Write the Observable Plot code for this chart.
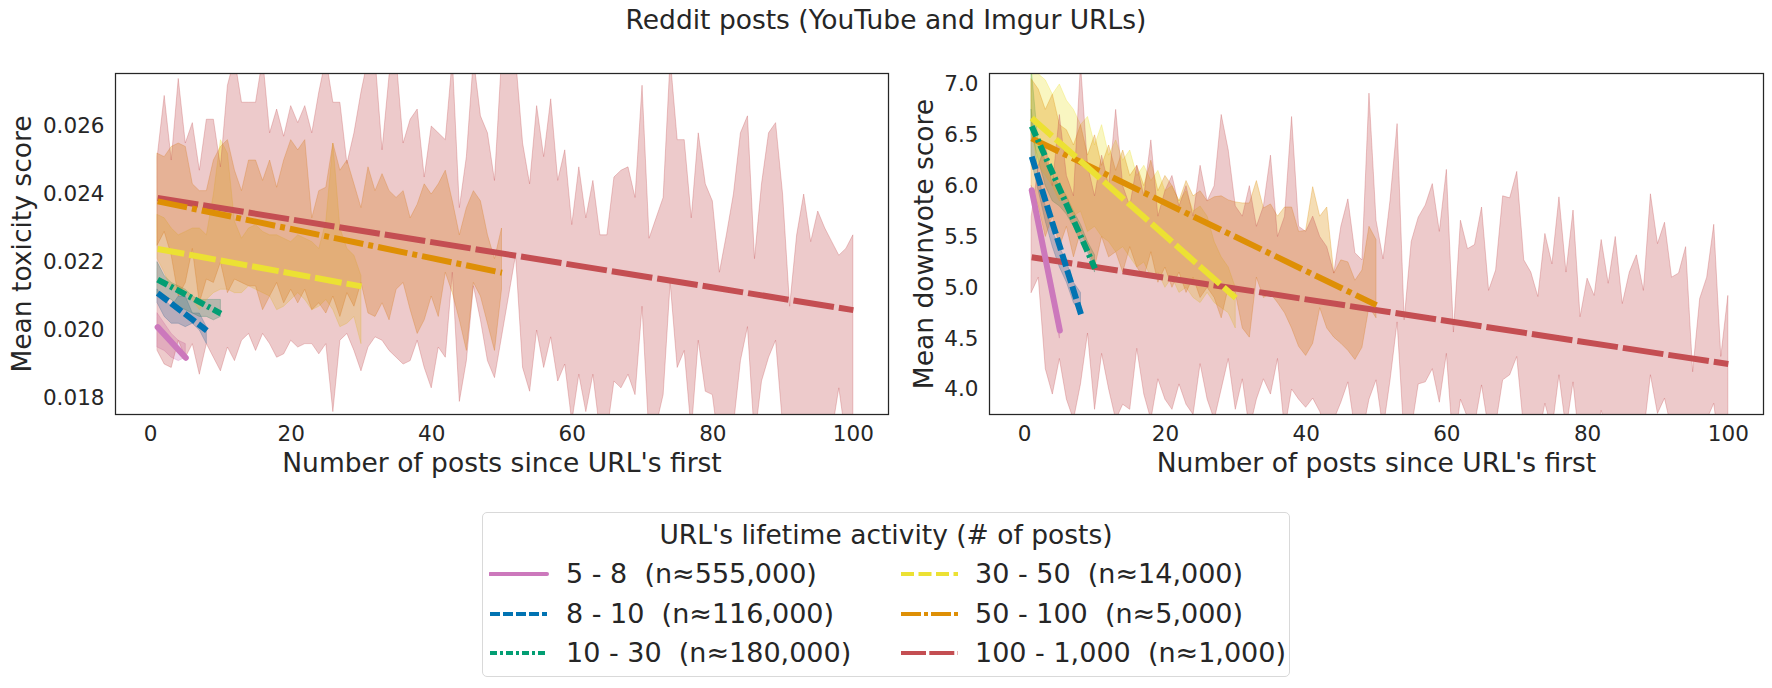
<!DOCTYPE html>
<html><head><meta charset="utf-8">
<script src="https://cdn.jsdelivr.net/npm/d3@7"></script>
<script src="https://cdn.jsdelivr.net/npm/@observablehq/plot@0.6"></script>
<style>
body{margin:0;background:#fff;font-family:"DejaVu Sans",sans-serif;color:#262626}
#root{position:relative;width:1772px;height:688px;overflow:hidden;background:#fff}
#title{position:absolute;left:0;width:1772px;top:5px;line-height:30px;text-align:center;font-size:26.5px}
.panel{position:absolute;top:0}
#legend{position:absolute;left:482px;top:512px;width:806px;height:163px;border:1.5px solid #d9d9d9;border-radius:5px;font-size:27px;background:#fff}
.lt{position:absolute;left:0;width:806px;text-align:center;line-height:30px;font-size:26.5px}
.item{position:absolute;white-space:pre;line-height:30px}
.sw{position:absolute}
</style>
</head><body>
<div id="root">
  <div id="title">Reddit posts (YouTube and Imgur URLs)</div>
  <div id="left" class="panel" style="left:0px"></div>
  <div id="right" class="panel" style="left:900px"></div>
  <div id="legend"></div>
</div>
<script>
// ---------- categories ----------
const groupLabels = ["5 - 8", "8 - 10", "10 - 30", "30 - 50", "50 - 100", "100 - 1,000"];
const groupCounts = ["n≈555,000", "n≈116,000", "n≈180,000", "n≈14,000", "n≈5,000", "n≈1,000"];
const groupColors = ["#cc78bc", "#0173b2", "#029e73", "#ece133", "#de8f05", "#c44e52"];
const groupLastX = [5, 8, 10, 30, 50, 100];
const xTicks = [0, 20, 40, 60, 80, 100];
const xLabel = "Number of posts since URL's first";

// ---------- left panel: mean toxicity ----------
const toxTicks = [0.018, 0.020, 0.022, 0.024, 0.026];
const toxFitStart = [0.0201, 0.0211, 0.0215, 0.0224, 0.0238, 0.0239];
const toxFitEnd   = [0.0192, 0.0200, 0.0205, 0.0213, 0.0217, 0.0206];
const toxPinkLo = [0.0195, 0.0194, 0.0192, 0.0191, 0.0192];
const toxPinkHi = [0.0205, 0.0202, 0.0199, 0.0197, 0.0196];
const toxBlueLo = [0.0208, 0.0204, 0.0202, 0.0202, 0.0201, 0.0202, 0.0200, 0.0196];
const toxBlueHi = [0.0212, 0.0209, 0.0207, 0.0210, 0.0210, 0.0205, 0.0205, 0.0201];
const toxGreenLo = [0.0210, 0.0210, 0.0209, 0.0207, 0.0206, 0.0205, 0.0204, 0.0204, 0.0203, 0.0204];
const toxGreenHi = [0.0220, 0.0216, 0.0214, 0.0213, 0.0212, 0.0210, 0.0209, 0.0209, 0.0209, 0.0209];
const toxYellowLo = [0.0221, 0.0217, 0.0212, 0.0212, 0.0211, 0.0209, 0.0206, 0.0209, 0.0211, 0.0212,
  0.0212, 0.0211, 0.0211, 0.0213, 0.0212, 0.0211, 0.0210, 0.0206, 0.0207, 0.0209,
  0.0211, 0.0209, 0.0206, 0.0207, 0.0209, 0.0206, 0.0201, 0.0202, 0.0204, 0.0196];
const toxYellowHi = [0.0234, 0.0233, 0.0230, 0.0228, 0.0229, 0.0230, 0.0230, 0.0228, 0.0240, 0.0256,
  0.0252, 0.0232, 0.0227, 0.0230, 0.0231, 0.0229, 0.0228, 0.0228, 0.0227, 0.0226,
  0.0228, 0.0227, 0.0226, 0.0224, 0.0232, 0.0255, 0.0230, 0.0224, 0.0222, 0.0216];
const toxOrangeLo = [0.0225, 0.0229, 0.0222, 0.0210, 0.0214, 0.0224, 0.0208, 0.0215, 0.0214, 0.0220,
  0.0211, 0.0215, 0.0214, 0.0213, 0.0213, 0.0206, 0.0210, 0.0214, 0.0208, 0.0212,
  0.0208, 0.0212, 0.0206, 0.0208, 0.0205, 0.0210, 0.0204, 0.0211, 0.0207, 0.0214,
  0.0205, 0.0204, 0.0208, 0.0203, 0.0212, 0.0214, 0.0206, 0.0199, 0.0203, 0.0210,
  0.0204, 0.0217, 0.0211, 0.0203, 0.0194, 0.0214, 0.0210, 0.0202, 0.0194, 0.0212];
const toxOrangeHi = [0.0252, 0.0251, 0.0254, 0.0255, 0.0254, 0.0243, 0.0241, 0.0241, 0.0250, 0.0254,
  0.0256, 0.0247, 0.0241, 0.0250, 0.0250, 0.0244, 0.0250, 0.0242, 0.0250, 0.0256,
  0.0253, 0.0256, 0.0233, 0.0241, 0.0242, 0.0255, 0.0247, 0.0250, 0.0243, 0.0236,
  0.0248, 0.0241, 0.0246, 0.0241, 0.0239, 0.0241, 0.0233, 0.0237, 0.0243, 0.0240,
  0.0243, 0.0247, 0.0238, 0.0228, 0.0236, 0.0241, 0.0238, 0.0228, 0.0221, 0.0230];
const toxRedLo = [0.0194, 0.0190, 0.0189, 0.0197, 0.0192, 0.0196, 0.0187, 0.0196, 0.0192, 0.0188,
  0.0195, 0.0191, 0.0197, 0.0199, 0.0194, 0.0199, 0.0196, 0.0192, 0.0193, 0.0197,
  0.0195, 0.0196, 0.0196, 0.0193, 0.0196, 0.0176, 0.0197, 0.0199, 0.0194, 0.0188,
  0.0195, 0.0198, 0.0197, 0.0194, 0.0192, 0.0190, 0.0191, 0.0197, 0.0189, 0.0183,
  0.0195, 0.0192, 0.0217, 0.0179, 0.0191, 0.0213, 0.0203, 0.0191, 0.0186, 0.0198,
  0.0210, 0.0222, 0.0189, 0.0182, 0.0200, 0.0189, 0.0198, 0.0185, 0.0190, 0.0173,
  0.0187, 0.0176, 0.0187, 0.0170, 0.0170, 0.0185, 0.0183, 0.0187, 0.0181, 0.0207,
  0.0168, 0.0172, 0.0181, 0.0214, 0.0189, 0.0194, 0.0170, 0.0197, 0.0182, 0.0181,
  0.0165, 0.0170, 0.0172, 0.0191, 0.0201, 0.0168, 0.0185, 0.0192, 0.0197, 0.0172,
  0.0168, 0.0165, 0.0170, 0.0166, 0.0169, 0.0171, 0.0170, 0.0183, 0.0168, 0.0172];
const toxRedHi = [0.0251, 0.0269, 0.0250, 0.0274, 0.0255, 0.0261, 0.0247, 0.0262, 0.0262, 0.0248,
  0.0272, 0.0280, 0.0267, 0.0267, 0.0267, 0.0280, 0.0258, 0.0265, 0.0257, 0.0266,
  0.0261, 0.0266, 0.0258, 0.0270, 0.0280, 0.0267, 0.0267, 0.0249, 0.0258, 0.0270,
  0.0280, 0.0280, 0.0253, 0.0275, 0.0280, 0.0255, 0.0262, 0.0265, 0.0245, 0.0260,
  0.0258, 0.0256, 0.0280, 0.0236, 0.0251, 0.0280, 0.0263, 0.0258, 0.0244, 0.0280,
  0.0280, 0.0280, 0.0255, 0.0243, 0.0266, 0.0251, 0.0268, 0.0244, 0.0253, 0.0231,
  0.0248, 0.0233, 0.0244, 0.0228, 0.0228, 0.0245, 0.0247, 0.0248, 0.0239, 0.0272,
  0.0227, 0.0233, 0.0239, 0.0280, 0.0256, 0.0256, 0.0233, 0.0258, 0.0243, 0.0238,
  0.0217, 0.0228, 0.0240, 0.0258, 0.0263, 0.0221, 0.0243, 0.0258, 0.0261, 0.0240,
  0.0207, 0.0228, 0.0240, 0.0226, 0.0235, 0.0230, 0.0226, 0.0222, 0.0224, 0.0228];

// ---------- right panel: mean downvote score ----------
const dvTicks = [4.0, 4.5, 5.0, 5.5, 6.0, 6.5, 7.0];
const dvFitStart = [5.96, 6.29, 6.59, 6.67, 6.47, 5.30];
const dvFitEnd   = [4.58, 4.74, 5.19, 4.90, 4.83, 4.25];
const dvPinkLo = [5.90, 5.55, 5.20, 4.85, 4.50];
const dvPinkHi = [6.00, 5.70, 5.35, 5.00, 4.65];
const dvBlueLo = [6.25, 5.95, 5.65, 5.40, 5.20, 5.05, 4.85, 4.75];
const dvBlueHi = [6.75, 6.10, 5.80, 5.55, 5.40, 5.25, 5.05, 4.95];
const dvGreenLo = [6.55, 6.25, 6.00, 5.85, 5.80, 5.72, 5.60, 5.45, 5.35, 5.15];
const dvGreenHi = [7.15, 6.40, 6.25, 6.10, 6.00, 5.90, 5.75, 5.62, 5.45, 5.32];
const dvYellowLo = [6.50, 6.20, 6.10, 6.00, 5.85, 5.90, 5.70, 5.75, 5.55, 5.60,
  5.50, 5.45, 5.35, 5.40, 5.30, 5.20, 5.25, 5.10, 5.15, 5.00,
  5.10, 4.95, 5.00, 4.90, 4.85, 4.95, 4.85, 4.80, 4.75, 4.60];
const dvYellowHi = [7.20, 7.10, 7.04, 6.90, 7.00, 6.84, 6.75, 6.60, 6.68, 6.40,
  6.60, 6.30, 6.45, 6.25, 6.35, 6.10, 6.20, 6.05, 6.15, 5.95,
  6.00, 5.85, 5.95, 5.75, 5.80, 5.70, 5.45, 5.30, 5.20, 5.00];
const dvOrangeLo = [6.00, 5.80, 5.50, 5.70, 5.40, 5.60, 5.30, 5.55, 5.40, 5.20,
  5.50, 5.30, 5.35, 5.15, 5.40, 5.20, 5.10, 5.35, 5.05, 5.20,
  5.00, 5.15, 4.95, 5.10, 4.90, 5.00, 4.90, 4.70, 5.00, 4.95,
  4.60, 4.51, 5.10, 4.90, 4.94, 4.85, 4.75, 4.60, 4.42, 4.33,
  4.45, 4.80, 4.60, 4.51, 4.45, 4.38, 4.29, 4.41, 4.81, 4.70];
const dvOrangeHi = [7.05, 6.95, 6.75, 6.90, 6.60, 6.55, 6.40, 6.60, 6.30, 6.50,
  6.20, 6.40, 6.15, 6.35, 6.10, 6.20, 6.00, 6.25, 5.95, 6.10,
  6.00, 5.85, 6.05, 5.90, 5.95, 5.85, 5.89, 5.90, 5.86, 5.84,
  5.83, 5.83, 6.05, 5.78, 5.82, 5.70, 5.79, 5.79, 5.55, 5.56,
  5.99, 5.70, 5.79, 5.14, 5.27, 5.25, 5.07, 5.17, 5.60, 5.47];
const dvRedLo = [4.95, 5.10, 4.20, 3.95, 4.30, 3.90, 3.70, 4.05, 4.55, 3.80,
  4.35, 4.00, 3.70, 3.85, 3.80, 4.40, 3.95, 3.70, 4.10, 3.90,
  3.80, 4.05, 3.85, 3.75, 4.25, 3.90, 3.70, 4.00, 4.30, 3.80,
  4.10, 3.60, 3.90, 4.10, 3.95, 4.30, 3.60, 4.00, 3.90, 3.82,
  3.91, 3.78, 3.60, 3.70, 3.87, 4.07, 3.60, 3.55, 3.90, 4.09,
  3.60, 4.09, 4.66, 3.50, 3.60, 4.05, 4.07, 4.20, 3.87, 4.35,
  3.40, 3.90, 3.72, 3.65, 4.04, 3.60, 3.65, 4.09, 4.14, 4.32,
  3.60, 3.60, 3.50, 3.86, 3.60, 4.14, 3.60, 4.07, 3.40, 3.50,
  3.50, 3.79, 3.55, 3.70, 3.50, 3.60, 3.70, 3.55, 4.14, 3.76,
  3.91, 3.60, 3.60, 3.65, 3.30, 3.55, 3.70, 3.86, 3.30, 3.60];
const dvRedHi = [5.70, 6.20, 6.40, 6.00, 6.70, 6.10, 5.90, 7.20, 6.20, 5.90,
  6.30, 6.00, 6.75, 6.00, 5.80, 6.20, 5.90, 6.45, 5.70, 5.95,
  6.10, 5.80, 6.00, 5.70, 6.20, 5.85, 6.00, 6.70, 6.35, 5.80,
  5.70, 6.00, 5.60, 5.80, 6.30, 5.50, 5.70, 6.68, 5.60, 5.55,
  5.70, 5.50, 5.40, 5.14, 5.60, 5.87, 5.34, 5.27, 6.91, 5.66,
  5.28, 5.86, 6.61, 4.68, 5.45, 5.69, 5.81, 6.02, 5.55, 6.16,
  4.56, 5.66, 5.38, 5.42, 5.79, 4.97, 5.17, 5.90, 5.88, 6.14,
  5.27, 5.15, 4.91, 5.53, 5.23, 5.89, 5.15, 5.76, 4.71, 5.09,
  4.92, 5.47, 5.04, 5.50, 4.84, 5.15, 5.32, 4.97, 5.92, 5.43,
  5.64, 5.10, 5.14, 5.40, 4.17, 4.89, 5.10, 5.62, 4.32, 4.92];

// ---------- styles ----------
const plotDash = [null, "13,4", "11,3.5,3,3.5", "27,5", "30,5,5,5", "41,5"];
const legendDash = [null, "10,3", "7,3,3,3", "13,4.5", "20,3,4,3", "25,3.3"];

function bands(los, his) {
  return los.map((lo, g) => lo.map((v, i) => ({x: i + 1, lo: v, hi: his[g][i]})));
}

function panel(opts) {
  const bandData = bands(opts.lo, opts.hi);
  const marks = [];
  bandData.forEach((data, g) => {
    marks.push(Plot.areaY(data, {x: "x", y1: "lo", y2: "hi", fill: groupColors[g], fillOpacity: 0.3,
      stroke: groupColors[g], strokeOpacity: 0.3, strokeWidth: 1, clip: true}));
  });
  for (let g = groupColors.length - 1; g >= 0; g--) {
    const fit = [{x: bandData[g][0].x, y: opts.fitStart[g]}, {x: groupLastX[g], y: opts.fitEnd[g]}];
    marks.push(Plot.line(fit, {x: "x", y: "y", stroke: groupColors[g], strokeWidth: 6,
      strokeDasharray: plotDash[g] || undefined, strokeLinecap: plotDash[g] ? "butt" : "round", clip: true}));
  }
  marks.push(Plot.frame({stroke: "#262626", strokeWidth: 1.25}));
  marks.push(Plot.axisX({ticks: xTicks, tickSize: 0, tickPadding: 11, fontSize: 21.5, label: null}));
  marks.push(Plot.axisY({ticks: opts.yTicks, tickSize: 0, tickPadding: 11, fontSize: 21.5, label: null,
    tickFormat: d3.format(opts.yFormat)}));
  marks.push(Plot.text([xLabel], {text: d => d, frameAnchor: "bottom", dy: 49, textAnchor: "middle", lineAnchor: "middle", fontSize: 26.5}));
  marks.push(Plot.text([opts.yLabel], {text: d => d, frameAnchor: "left", dx: opts.yLabelDx, rotate: -90, textAnchor: "middle", lineAnchor: "middle", fontSize: 26.5}));
  return Plot.plot({
    width: opts.width, height: 480,
    marginLeft: opts.marginLeft, marginRight: opts.marginRight, marginTop: 73, marginBottom: 66,
    x: {domain: [-5, 105]},
    y: {domain: opts.yDomain},
    style: {fontFamily: "DejaVu Sans", color: "#262626", background: "transparent", overflow: "visible"},
    marks
  });
}

document.getElementById("left").appendChild(panel({
  lo: [toxPinkLo, toxBlueLo, toxGreenLo, toxYellowLo, toxOrangeLo, toxRedLo],
  hi: [toxPinkHi, toxBlueHi, toxGreenHi, toxYellowHi, toxOrangeHi, toxRedHi],
  fitStart: toxFitStart, fitEnd: toxFitEnd,
  yDomain: [0.01753, 0.02756], yTicks: toxTicks, yFormat: ".3f",
  yLabel: "Mean toxicity score", yLabelDx: -93,
  width: 900, marginLeft: 115, marginRight: 12
}));
document.getElementById("right").appendChild(panel({
  lo: [dvPinkLo, dvBlueLo, dvGreenLo, dvYellowLo, dvOrangeLo, dvRedLo],
  hi: [dvPinkHi, dvBlueHi, dvGreenHi, dvYellowHi, dvOrangeHi, dvRedHi],
  fitStart: dvFitStart, fitEnd: dvFitEnd,
  yDomain: [3.754, 7.108], yTicks: dvTicks, yFormat: ".1f",
  yLabel: "Mean downvote score", yLabelDx: -65,
  width: 872, marginLeft: 89, marginRight: 9
}));

// ---------- legend ----------
const legend = document.getElementById("legend");
const lt = document.createElement("div");
lt.className = "lt"; lt.style.top = "7px";
lt.textContent = "URL's lifetime activity (# of posts)";
legend.appendChild(lt);
const rowY = [61, 101, 140];
groupLabels.forEach((lab, g) => {
  const col = g < 3 ? 0 : 1, row = g % 3;
  const lineX = col === 0 ? 6 : 417, textX = col === 0 ? 83 : 492;
  const sw = document.createElementNS("http://www.w3.org/2000/svg", "svg");
  sw.setAttribute("class", "sw"); sw.setAttribute("width", 60); sw.setAttribute("height", 10);
  sw.style.left = lineX + "px"; sw.style.top = (rowY[row] - 5) + "px";
  const ln = document.createElementNS("http://www.w3.org/2000/svg", "line");
  ln.setAttribute("x1", 1); ln.setAttribute("x2", 58); ln.setAttribute("y1", 5); ln.setAttribute("y2", 5);
  ln.setAttribute("stroke", groupColors[g]); ln.setAttribute("stroke-width", 4);
  if (legendDash[g]) ln.setAttribute("stroke-dasharray", legendDash[g]);
  else ln.setAttribute("stroke-linecap", "round");
  sw.appendChild(ln); legend.appendChild(sw);
  const t = document.createElement("div");
  t.className = "item"; t.style.left = textX + "px"; t.style.top = (rowY[row] - 15) + "px";
  t.textContent = lab + "  (" + groupCounts[g] + ")";
  legend.appendChild(t);
});
</script>
</body></html>
